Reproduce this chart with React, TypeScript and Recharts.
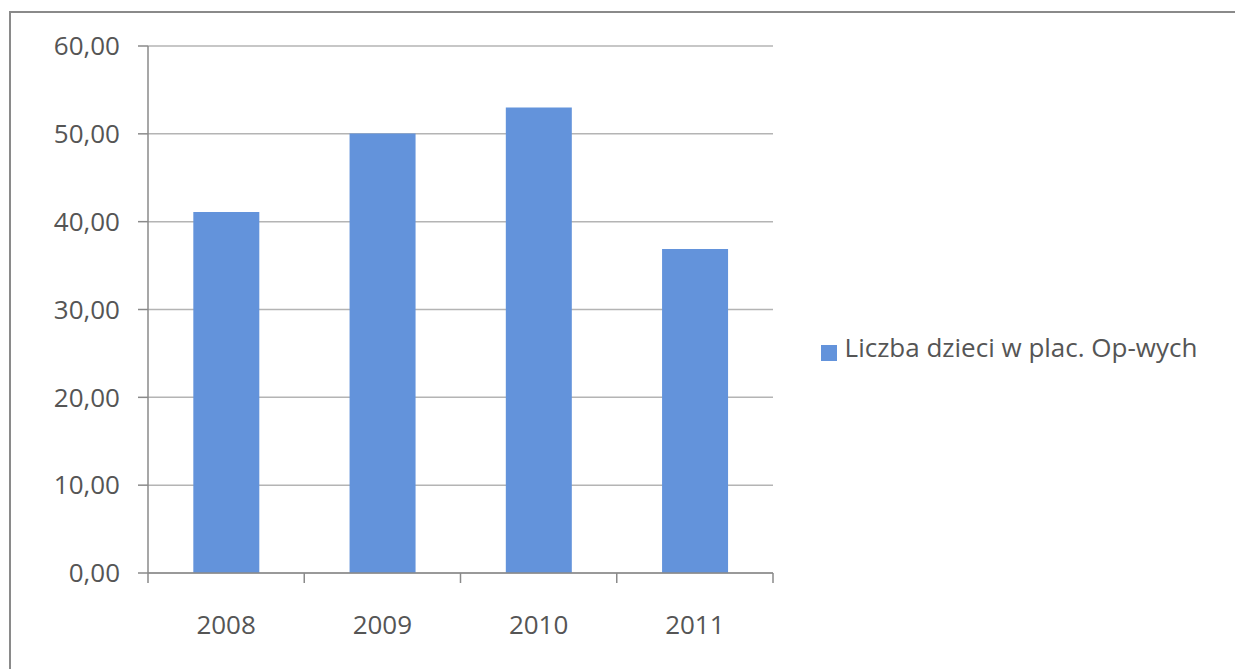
import React from 'react';
import { BarChart, Bar, XAxis, YAxis, CartesianGrid, Legend } from 'recharts';

const years = ['2008', '2009', '2010', '2011'];
const children = [41.1, 50.05, 53.0, 36.9];
const yTicks = [0, 10, 20, 30, 40, 50, 60];
const seriesName = 'Liczba dzieci w plac. Op-wych';

const data = years.map((year, i) => ({ year, value: children[i] }));

const FONT = '"Open Sans", sans-serif';
const TEXT = '#555555';
const BAR = '#6393DB';
const LINE = '#8a8a8a';
const LABEL_GAP = 43;

const fmt = (v: number) => v.toFixed(2).replace('.', ',');

// category label plus Excel-style tick marks between categories
const YearTick = (props: any) => {
  const { x, y, payload, index } = props;
  const half = payload.offset ?? 0;
  const axisY = y - LABEL_GAP;
  const last = index === years.length - 1;
  return (
    <g>
      <line x1={x - half} x2={x - half} y1={axisY} y2={axisY + 10} stroke={LINE} strokeWidth={1.5} />
      {last && (
        <line x1={x + half} x2={x + half} y1={axisY} y2={axisY + 10} stroke={LINE} strokeWidth={1.5} />
      )}
      <text x={x} y={y} dy="0.71em" textAnchor="middle" fill={TEXT} fontSize={26} fontFamily={FONT}>
        {payload.value}
      </text>
    </g>
  );
};

export default function App() {
  return (
    <div
      style={{
        position: 'fixed',
        left: 0,
        top: 0,
        width: 1235,
        height: 669,
        background: '#fff',
        fontFamily: FONT,
        overflow: 'hidden',
      }}
    >
      <style>{'html, body { margin: 0; overflow: hidden; }'}</style>
      {/* scanned frame edges */}
      <div style={{ position: 'absolute', left: 9, top: 11, width: 2, height: 658, background: LINE }} />
      <div style={{ position: 'absolute', left: 9, top: 11, width: 1226, height: 2, background: LINE }} />
      <BarChart
        width={1235}
        height={669}
        data={data}
        margin={{ top: 46, right: 462, bottom: 36, left: 0 }}
        barCategoryGap="29%"
      >
        <CartesianGrid horizontal vertical={false} stroke="#b4b4b4" strokeWidth={1.5} />
        <XAxis
          dataKey="year"
          height={60}
          axisLine={{ stroke: LINE, strokeWidth: 1.5 }}
          tickLine={false}
          tickSize={0}
          tickMargin={LABEL_GAP}
          tick={<YearTick />}
        />
        <YAxis
          width={148}
          domain={[0, 60]}
          ticks={yTicks}
          tickFormatter={fmt}
          axisLine={{ stroke: LINE, strokeWidth: 1.5 }}
          tickLine={{ stroke: LINE, strokeWidth: 1.5 }}
          tickSize={10}
          tickMargin={18}
          tick={{ fill: TEXT, fontSize: 26, fontFamily: FONT }}
        />
        <Legend
          layout="horizontal"
          verticalAlign="middle"
          align="center"
          iconType="square"
          iconSize={16}
          wrapperStyle={{ left: 793, top: 329, width: 442 }}
          formatter={(v: string) => (
            <span style={{ color: TEXT, fontSize: 26, fontFamily: FONT, marginLeft: 4 }}>{v}</span>
          )}
        />
        <Bar dataKey="value" name={seriesName} fill={BAR} isAnimationActive={false} />
      </BarChart>
    </div>
  );
}
